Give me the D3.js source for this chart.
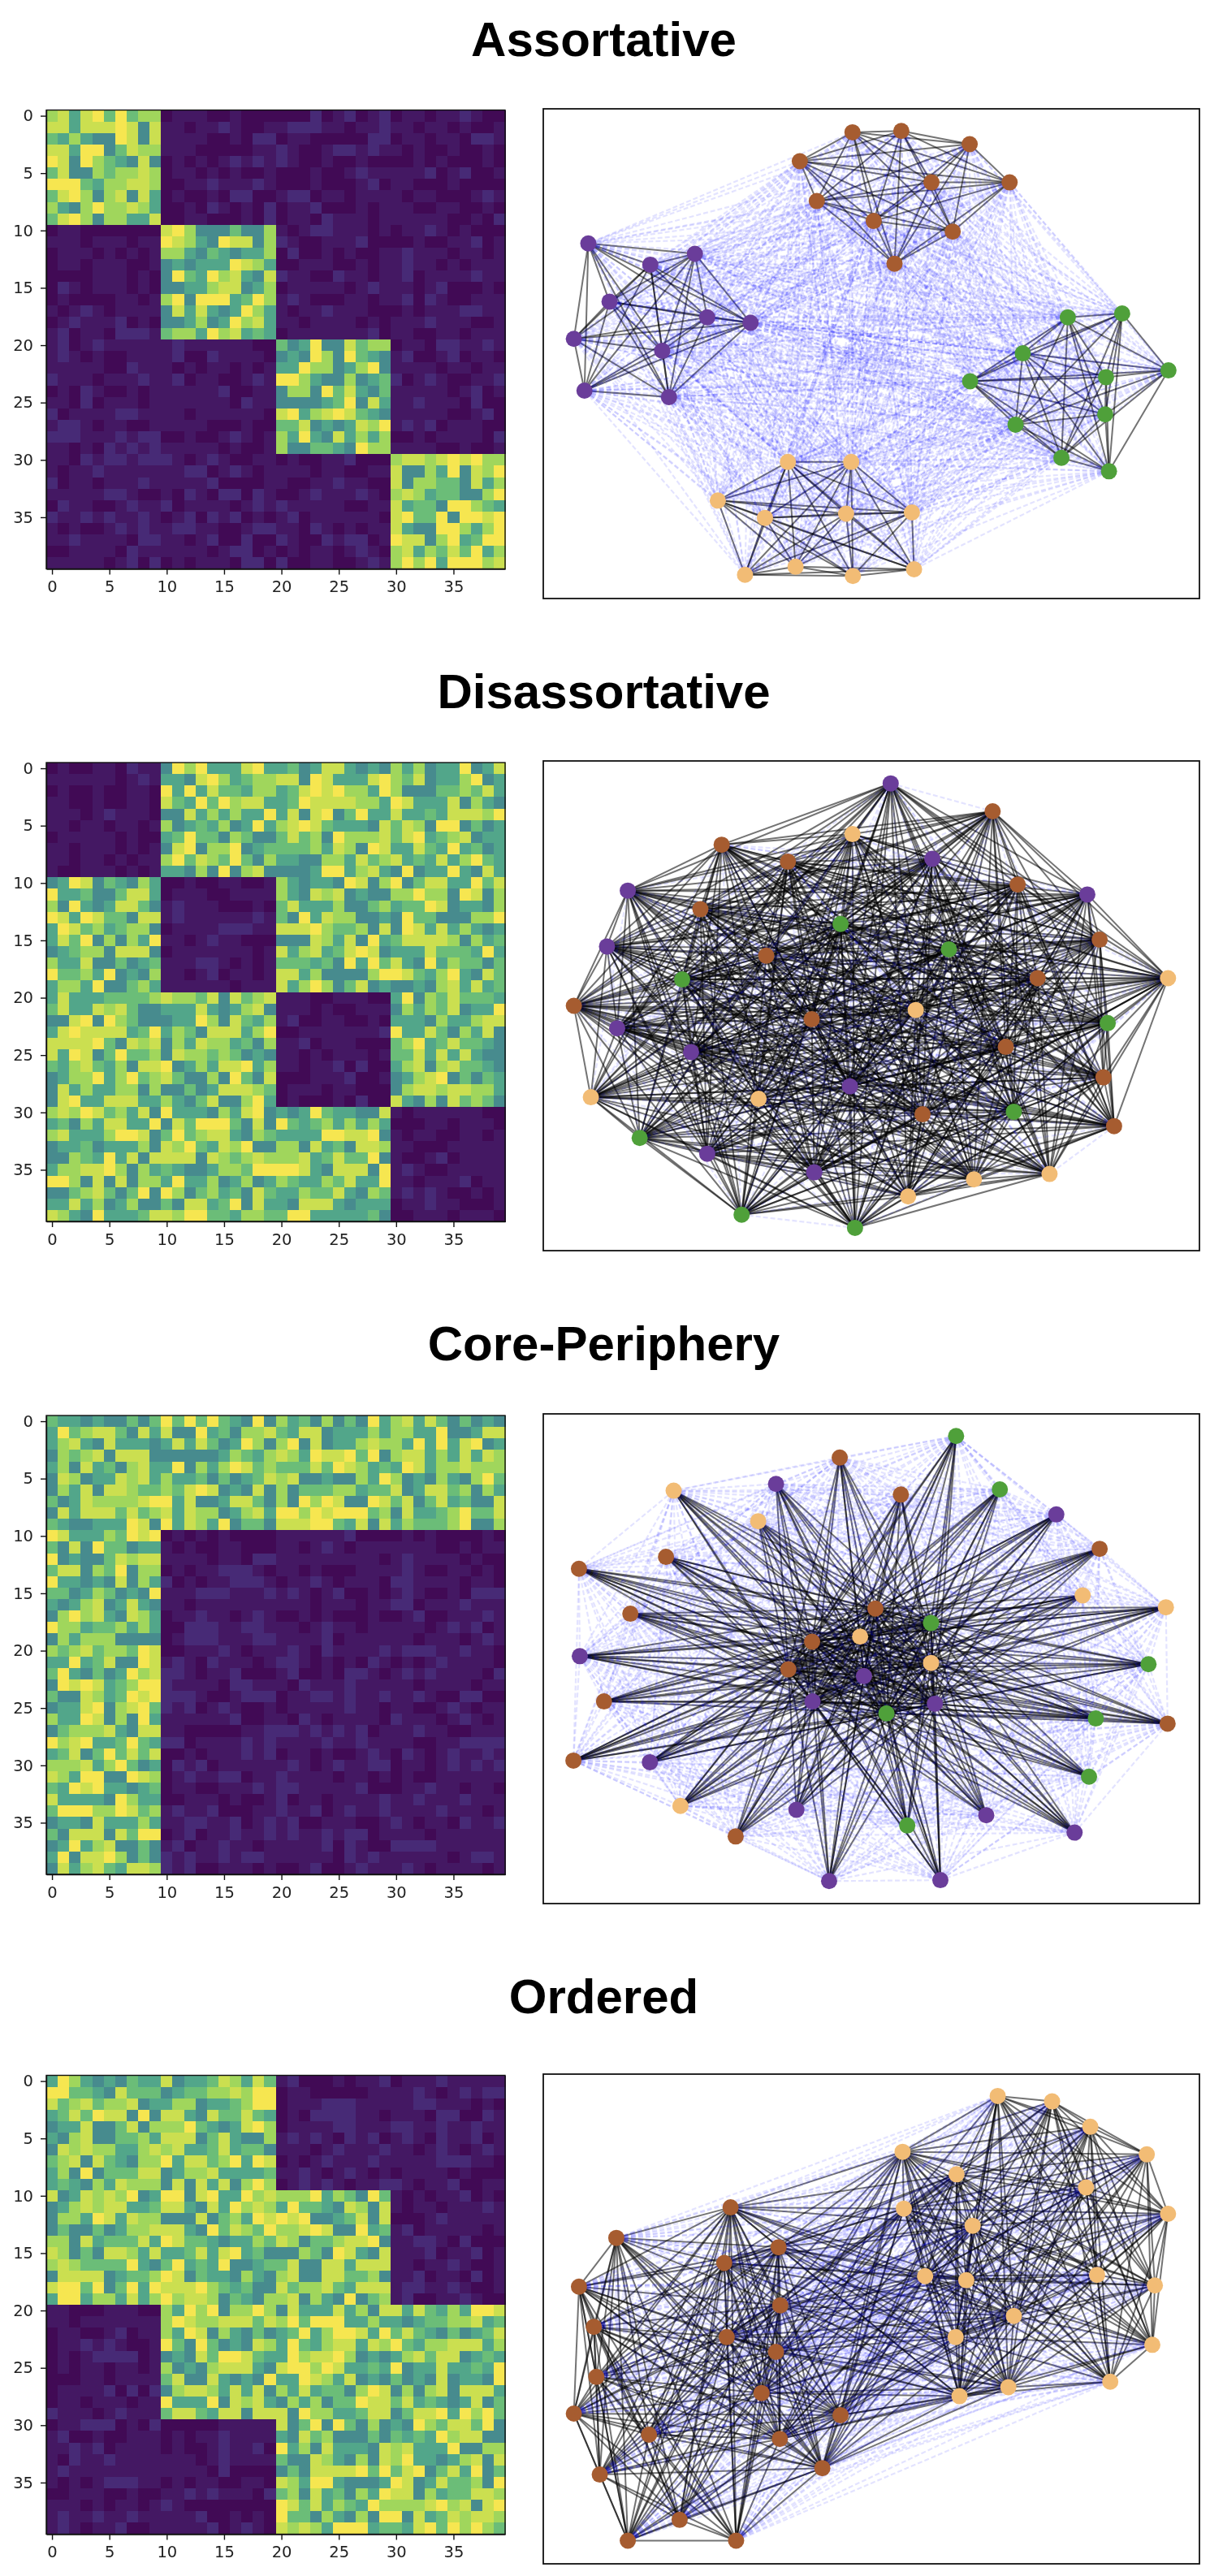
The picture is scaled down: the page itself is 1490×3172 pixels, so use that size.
<!DOCTYPE html>
<html lang="en">
<head>
<meta charset="utf-8">
<style type="text/css">
    html, body { margin: 0; padding: 0; background: #fff; }
    svg { display: block; }
    .title { font-family: "Liberation Sans", Arial, sans-serif; font-weight: bold; font-size: 60px; text-anchor: middle; }
    .axis text { font-family: "DejaVu Sans", sans-serif; font-size: 19.5px; fill: #222; }
    .axis path, .axis line { stroke: #111; stroke-width: 1.4px; }
    .strong { stroke: #000; stroke-opacity: .55; stroke-width: 2px; }
    .weak { stroke: #0000ff; stroke-opacity: .11; stroke-width: 2.2px; stroke-dasharray: 6 3; }
</style>
</head>
<body>
<svg width="1490" height="3172"></svg>
<script src="https://cdn.jsdelivr.net/npm/d3@7"></script>
<script type="text/javascript">
    // cell levels: a-c are the weak (dark) cells, 4-9 are the strong ones
    var levels = {a: 0, b: .03, c: .07, 4: .45, 5: .55, 6: .65, 7: .76, 8: .88, 9: 1};

    var titles = ["Assortative", "Disassortative", "Core-Periphery", "Ordered"];
    var tickValues = [0, 5, 10, 15, 20, 25, 30, 35];
    var communityColors = ["#a65c30", "#6a3d9a", "#4fa03a", "#f2bc75"];

    var assortativeCells = [
        "7858969677 abbbaabaaa aaacabcabc abbabbcbaa",
        "8858889848 bbabbcbaab bcccbbabbc bbabbabaab",
        "6575449848 bbbbaabacc abbaaaaacc abbabbaccb",
        "8859946877 bbbaaaaabb cbaabccbcb babaabaaba",
        "9849765484 abababcbcb cbaabaabaa aababaaaba",
        "6844767787 abbababaab aaabaabcbb bbbcabcaab",
        "9996577887 aabbcbbbcb aaabaaabca bbaaabaaaa",
        "6897478485 abaabaccaa bccabbabbb babbaaabcb",
        "7547977875 aabacbabac abbcaaabab bbaabbaaba",
        "6897477558 aabbaaabac abbacbbbab bbbbbaabac",
        "abbaaaaaaa 8974446447 babccbbbab abbcbabaaa",
        "bbbabbbabb 9875498847 cbaabbbcaa aabaabbcab",
        "abbbababab 7754654557 acaababaab bcbbbabbab",
        "abbabbbaab 4545559875 aabbbaabab bcbbababbb",
        "aaaabbbaba 4965978548 cbbaacbbab bcabbbbcbb",
        "acbabbbaba 4455788457 abbbbbabcb bbabcaaaba",
        "abaaaabbab 7949995697 bcbaaabbab bcacbaabbb",
        "babcbabbbb 4858545975 babbcbbbaa ababbbccbb",
        "abcbbbcaba 4457459785 bbabbbbaba bbbcbbbaab",
        "bcabbacccb 6775978565 abbbbbbbca bbaabbabbb",
        "bcabcbbbbb bcbbbbbbaa 6459448677 abbaccbbcb",
        "bcbabaabbb bcaacbbbba 4549749654 bcaabcabba",
        "bbbbbaacbb bababbabab 5597745794 bbbbabbabb",
        "cbbbabbbcb bcabbaabcb 9975447456 cabcbaabbc",
        "abacbaabab bbbbbcaabb 4774968546 bbbbbabcab",
        "bbacabbbab bbbbbbacbb 4444569485 bbcbbbacaa",
        "cabbbbccbb bbabbbbbba 8957898654 bbbbbaabca",
        "bccbabbaab bbbbaaabaa 6684545879 bcbcabbbaa",
        "cccbbbcbcc aabaabcbab 7595485757 aababbbbac",
        "bbabacbcbc bbbbbabaab 7446654977 bbbbaabaab",
        "bbacbccbcc cbabcbaabb abaabbcaaa 7887898977",
        "babbcbbbbb bbccabcbab bbbabbaabb 8447594879",
        "cabbabbbcb bbbbcaaaab baabbcbbaa 8477664857",
        "bbbbbccbaa bacbaccacb aabcbbbcba 7875664479",
        "acbbaabcbb cabbbbabcb cbbbbbaabb 8566499765",
        "cbbcbcbbcb abcacbcaba bcabbbbbba 8966949989",
        "babaabcbcb bccbbaabcc bbacbababb 8544997579",
        "bbcbbbbacc bbabcaacaa cbaacbccab 9884795699",
        "aabbbbacbb bbbbabccab ababbabcba 7857686957",
        "bbbbbabcac ababbbacca caabbaabcb 7979599978"
    ];

    var disassortativeCells = [
        "abaabbacbb 4979555895 5645885454 7574559458",
        "bbbbbbabcb 5548975677 8849855589 7684557945",
        "abaabaabba 9595866577 5689897759 7444667685",
        "bbaabaabba 8659697885 5698888775 9855584754",
        "bbbabcbbba 4485757559 5848946955 8556588879",
        "bbabbabbab 7456574595 7898655548 6874994645",
        "abbbbbabaa 5696647644 6867497778 6895678455",
        "bbabbbabab 4894779456 6667587498 5586595645",
        "bbabbababb 7968769647 5544775867 8565857965",
        "baabbbabab 5547494784 4445995785 4945595485",
        "4598465475 aabaabbaab 7545549847 9468855968",
        "9556446885 abbbaabbbb 7548784544 7797749847",
        "7495458864 bcbbbaaaba 6855574467 5669845547",
        "9859866488 bcbbbbbbcb 6495877445 4966444779",
        "5986756774 abbbbcccbb 8889766748 4985857545",
        "5869474759 bbabcbbaaa 4448758495 6888874756",
        "4567748884 abbbbbbbab 8578568984 5558666595",
        "7558446456 bbbccbabab 6665649596 8549576646",
        "9667594547 bbabcabbab 8857444479 9865795486",
        "5775944675 bbbbbbabbb 8579746845 4454785856",
        "5855566667 8776848678 bbbaabbbaa 5947686665",
        "6855878644 5558545784 bbbabaabbb 4757684559",
        "4489497644 4559748657 bcaabbaaba 5554755788",
        "5898888569 5764888579 aabbbbbbbc 9558647584",
        "8888964878 4758775647 bbcabbbaaa 6795686654",
        "8598469667 4877676454 bbababbbab 6685858544",
        "6578657488 9457588957 bbabbcacaa 5784786654",
        "4577957967 8644749648 aaabbbcaab 4578946465",
        "4857557747 4464588876 abbbabbaaa 4788788775",
        "4895588855 7546844795 abaaabacaa 8547486764",
        "7879867584 9555475894 5459655448 babbbbbbaa",
        "5647588559 4869996484 9656757575 aaabbabbba",
        "7855579984 6967885476 5555998894 babbaabbab",
        "4556455574 8796587944 7748564887 bbaaabbbbb",
        "4476595848 8884876787 7785686694 baabcabbbb",
        "5778897475 6544577699 9985488849 bcbaabbbbb",
        "9974848477 5955745745 7655768559 bbabbbcabb",
        "4467864694 9746756486 5576685476 bcbcbaabab",
        "5585745744 6488569485 5488854555 abbcbbaaab",
        "8754955568 8799665776 6995555564 aabbbabbba"
    ];

    var corePeripheryCells = [
        "6554544646 9696965494 7564746495 7858646454",
        "5967886485 8449564778 6588455575 7755944588",
        "5785485554 5858645974 7948455787 7595958945",
        "4767848884 4444457657 8759889694 7885758587",
        "5748564785 5947579867 6668698756 5985778777",
        "4874558785 7556464568 7844544759 7454754796",
        "4758488766 7689845484 7466677566 8458867475",
        "6458777789 9584458864 7497984498 6846856448",
        "4858886867 8587745785 9979899967 4855679668",
        "6544555984 9587594664 8889965848 5766679447",
        "9855576989 abababaaaa bbbbbbcaaa ababaaaaba",
        "6484966455 babaabbaaa bbabcbabbb bbbbaababb",
        "9454468788 bbbbabbacc bbbbbbbbba bcbbbbabaa",
        "6884769477 ababbcccba bbabaaabbb bcbaabbaba",
        "9554548475 cababbcccb abbcbabbba ccbbbbabba",
        "6645764549 bbbcccbbbc bcbabcaaba bcbaabaccc",
        "5457845854 bbabbbbbbb bbbabbbabb ccabbbcbbb",
        "4797854875 abbcbbabcb aababaaaba abcaabbbcb",
        "9775667575 aacccbbccb bbabcbbabb bbbabcbcab",
        "4757774444 abcccbbbcc bbbbcabbbb bbabbbabcb",
        "7678677698 aabbbcbabb bcbacbbbbc bcccbbcbba",
        "5595684498 bcbacbbbab ccbababacb ababcbbbba",
        "6954645978 ccbabbcaaa bcaabaccba bcbcbbbbac",
        "4989856799 cbbbbaccbb bacbbbcbbb bbabbbbabb",
        "6448756989 cccbaabccc abbccbcbbc bbcbaaccaa",
        "4558947896 cbcabcbaab abbbbbcbba bbaabcbabb",
        "7559847495 bbbbbbcaab bacbabbbba cbbbabcbab",
        "4677785488 bbaaaaabbc ccbcbcbcab bbcbbaabbb",
        "9789556965 ccabbbbcbc bbbbcbbcbb bbaabbcccc",
        "5684696868 aababbbcbc abbabaabcb acbabcbbcb",
        "7778579645 acbcabbbbb bcbabcbbcc abbabcbcbc",
        "8759944987 abcbbccabb cbbbbabbab abaabbbbbb",
        "6598955456 abbaabbbcb ccbbbbbcaa abbcbbabba",
        "8555549755 aabbbabaab cabbabbbbc bbcbbbcbbb",
        "6999779867 bcbbcaaabb cbbcabcbbc bbbbcbbbab",
        "4554855575 bbccbbcabc bcaabbbaab cbabbacbbc",
        "6488848699 abcabbcbbc bcbbcbccab bbbabbbbbb",
        "4595784464 bcabbcbbab bbbbcacbaa ccccbbbbbb",
        "5948897464 cbcbbcbccb bbbbbacbcb bbbbbabccb",
        "4857865887 cbcaabbbab aabcaabcbb bcbabbbbab"
    ];

    var orderedCells = [
        "5975454655 8455687586 bcaaababbc abbbcbbbbb",
        "9966548666 4566778799 abbaaaaabb bbcbabcbcc",
        "8678677845 5774556799 abbbcccbbb bbccbbbaba",
        "5686988494 8854866865 abaccccbba bbbaccaacb",
        "4558446847 7796545897 abbbbccbbb ccbbcbbcbb",
        "5478446675 8884685447 bcbcbacbca bcbacbbcab",
        "4878775578 7855685664 bbbabcbbbc bbabcbabcb",
        "6784865477 9588679598 ababcbbbcb bbbbcccbba",
        "5749466688 4577855556 bbcbabcbab abbbbabaaa",
        "5654758777 4848584797 abcbcbabbc cbabbcaabb",
        "8458787945 9948955978 7779576496 bababbcaba",
        "4578788556 8854859787 5966548748 babbabbbcb",
        "4775985877 4448467598 9894456848 aaabcbbbbb",
        "4644645778 8854968769 7789844956 bcabbbbbab",
        "7748566685 9866545576 8746678894 bbccbacaaa",
        "8746488758 5568589564 4476498548 bbbcabbcab",
        "7876666954 6956594456 6844885888 bbabbcbaab",
        "4888845667 9846554754 7844886674 bbcabbacab",
        "8996946959 8889765644 8677865888 bccbbcbaab",
        "5995775857 9788746547 7847549467 bcaabbcbaa",
        "bbaaabbbaa 7597947797 4855585748 8586575998",
        "bbabbbbbbb 7987788868 7969995575 5456677856",
        "abbaabcabb 7598475464 5695799859 6865464568",
        "abbcbcbaab 9649645487 5965788587 9657788857",
        "ababccccab 4548699865 5978897454 5786884565",
        "ababbabbab 7454788854 8997985565 9455855659",
        "aaabbabbbb 6844854549 5598758454 6454845549",
        "abbbbcacac 4788758584 7585664798 4747848885",
        "abbabbbabb 9555948785 4757466988 6856545846",
        "cbbbabcbbb 6886588488 8497755688 4688959796",
        "abbcccabac aaaaabbbbb 8469496474 5497688694",
        "bcaabaabbb ababbcbbbb 5486744464 6565978844",
        "bbcbcabbbb abaabcbbca 9574855548 7855594477",
        "bacbbcbbbb bbbabcbbbb 6448754748 7955457848",
        "bcbbbbbbbb bbbbacaaaa 4648888969 6894685946",
        "bababcccbb ababbaabba 8759954445 9845866749",
        "aabbbaabaa bbcbcbbbac 6748564759 8847566887",
        "bbbababbab cbaaaaaaaa 9868576597 7778978489",
        "bcbbcbbcbb bbbcaababa 9664754749 9485687887",
        "bcbabbcaab bbbbcabcba 8787599956 6589697976"
    ];

    // layout positions of the nodes: x, y, community. Block of a node = index / 10
    var assortativeNodes = [
        [745,95,0],[860,91,0],[1021,132,0],[621,185,0],[1115,251,0],[931,251,0],[661,309,0],[795,371,0],[981,404,0],[844,504,0],
        [123,441,1],[374,473,1],[269,507,1],[173,622,1],[403,671,1],[505,688,1],[89,738,1],[297,775,1],[114,899,1],[313,919,1],
        [1380,659,2],[1252,671,2],[1146,783,2],[1489,836,2],[1342,857,2],[1022,870,2],[1340,973,2],[1129,1005,2],[1237,1108,2],[1349,1150,2],
        [593,1121,3],[742,1121,3],[428,1241,3],[885,1278,3],[539,1295,3],[730,1282,3],[890,1455,3],[611,1447,3],[746,1476,3],[492,1472,3]
    ];
    var disassortativeNodes = [
        [835,100,1],[1075,187,0],[89,793,0],[972,617,2],[542,637,0],[1181,707,0],[524,1083,3],[403,1254,1],[910,1131,0],[1336,1016,0],
        [1361,1168,0],[1209,1317,3],[216,434,1],[593,344,0],[717,538,2],[344,711,2],[894,806,3],[1106,921,0],[655,1312,1],[129,1078,3],
        [751,1485,2],[484,1444,2],[437,291,0],[1298,446,1],[1134,415,0],[933,335,1],[649,835,0],[191,863,1],[1346,847,2],[1031,1334,3],
        [745,258,3],[387,492,0],[167,608,1],[1488,707,3],[1327,587,0],[365,937,1],[739,1044,1],[1125,1123,2],[876,1387,3],[244,1205,2]
    ];
    var corePeripheryNodes = [
        [799,647,0],[930,692,2],[650,750,0],[763,734,3],[594,836,0],[930,816,3],[772,857,1],[651,936,1],[939,943,1],[825,973,2],
        [989,110,2],[715,177,0],[565,259,1],[324,280,3],[859,292,0],[1092,276,2],[523,375,3],[1225,354,1],[306,486,0],[1327,461,0],
        [101,523,0],[1287,606,3],[222,663,0],[1483,643,3],[103,795,1],[1442,820,2],[160,936,0],[1318,989,2],[1487,1005,0],[88,1120,0],
        [268,1125,1],[1302,1170,2],[340,1261,3],[613,1273,1],[1060,1290,1],[874,1322,2],[470,1356,0],[1268,1344,1],[690,1495,1],[952,1492,1]
    ];
    var orderedNodes = [
        [189,545,0],[101,697,0],[136,822,0],[142,978,0],[89,1092,0],[266,1158,0],[150,1282,0],[338,1423,0],[216,1488,0],[471,1488,0],
        [458,450,0],[571,574,0],[443,623,0],[575,755,0],[449,854,0],[565,900,0],[717,1097,0],[574,1171,0],[674,1262,0],[531,1028,0],
        [863,277,3],[866,454,3],[990,347,3],[916,664,3],[1013,677,3],[988,854,3],[1028,507,3],[1125,788,3],[1112,1010,3],[997,1038,3],
        [1087,103,3],[1215,120,3],[1305,199,3],[1438,285,3],[1295,388,3],[1488,470,3],[1321,660,3],[1457,693,3],[1451,878,3],[1352,993,3]
    ];

    var cellSets = [assortativeCells, disassortativeCells, corePeripheryCells, orderedCells];
    var nodeSets = [assortativeNodes, disassortativeNodes, corePeripheryNodes, orderedNodes];

    // where each row sits on the page
    var heatTops = [135.5, 939, 1743, 2555.5];
    var netTops = [134, 937, 1741, 2554];
    var titleBaselines = [69, 872, 1675, 2479];
    var layoutYDomains = [[22, 1546], [30, 1556], [41, 1565], [35, 1560]];

    var heatLeft = 57, heatSize = 565, netLeft = 669, netWidth = 808, netHeight = 603;

    var color = d3.scaleLinear()
        .domain([0, .07, .45, .55, .65, .76, .88, 1])
        .range(["#410a55", "#472a76", "#478b8e", "#52a68a", "#6bbd78", "#a0d65c", "#cbdf50", "#f6e650"]);

    var svg = d3.select("svg");

    // the reference is a slightly soft screenshot
    svg.append("defs").append("filter")
        .attr("id", "soft")
        .attr("filterUnits", "userSpaceOnUse")
        .attr("x", 0).attr("y", 0).attr("width", 1490).attr("height", 3172)
        .attr("color-interpolation-filters", "sRGB")
        .append("feGaussianBlur").attr("stdDeviation", .55);

    var root = svg.append("g").attr("filter", "url(#soft)");

    titles.forEach(function (title, p) {
        root.append("text").attr("class", "title")
            .attr("x", 743.5).attr("y", titleBaselines[p]).text(title);
        var rows = cellSets[p].map(function (r) {
            return r.replace(/ /g, "").split("").map(function (c) { return levels[c]; });
        });
        drawHeat(rows, heatTops[p]);
        drawNet(rows, nodeSets[p], netTops[p], layoutYDomains[p]);
    });

    function drawHeat(rows, top) {
        var x = d3.scaleLinear().domain([-0.5, 39.5]).range([heatLeft, heatLeft + heatSize]);
        var y = d3.scaleLinear().domain([-0.5, 39.5]).range([top, top + heatSize]);
        var g = root.append("g");

        rows.forEach(function (row, r) {
            g.selectAll(null)
                .data(row)
                .enter()
                .append("rect")
                .attr("x", function (d, c) { return x(c - 0.5); })
                .attr("y", y(r - 0.5))
                .attr("width", x(1) - x(0) + .5)
                .attr("height", y(1) - y(0) + .5)
                .attr("shape-rendering", "crispEdges")
                .attr("fill", function (d) { return color(d); });
        });

        root.append("g").attr("class", "axis")
            .attr("transform", "translate(0," + (top + heatSize) + ")")
            .call(d3.axisBottom(x).tickValues(tickValues).tickSize(7).tickPadding(8).tickSizeOuter(0));
        root.append("g").attr("class", "axis")
            .attr("transform", "translate(" + heatLeft + ",0)")
            .call(d3.axisLeft(y).tickValues(tickValues).tickSize(7).tickPadding(9).tickSizeOuter(0));
        root.append("rect")
            .attr("x", heatLeft).attr("y", top).attr("width", heatSize).attr("height", heatSize)
            .attr("fill", "none").attr("stroke", "#111").attr("stroke-width", 1.4);
    }

    function drawNet(rows, nodes, top, yDomain) {
        var x = d3.scaleLinear().domain([17, 1562]).range([netLeft, netLeft + netWidth]);
        var y = d3.scaleLinear().domain(yDomain).range([top, top + netHeight]);
        var g = root.append("g");

        var links = [];
        nodes.forEach(function (a, i) {
            nodes.forEach(function (b, j) {
                if (i < j) links.push({a: a, b: b, value: rows[i][j]});
            });
        });
        // blue over black, that is what gives the navy crossings
        links.sort(function (l, m) { return m.value - l.value; });

        g.selectAll(".link")
            .data(links)
            .enter()
            .append("line")
            .attr("class", function (d) { return d.value > .3 ? "strong" : "weak"; })
            .attr("x1", function (d) { return x(d.a[0]); })
            .attr("y1", function (d) { return y(d.a[1]); })
            .attr("x2", function (d) { return x(d.b[0]); })
            .attr("y2", function (d) { return y(d.b[1]); });

        g.selectAll("circle")
            .data(nodes)
            .enter()
            .append("circle")
            .attr("cx", function (d) { return x(d[0]); })
            .attr("cy", function (d) { return y(d[1]); })
            .attr("r", 10)
            .attr("fill", function (d) { return communityColors[d[2]]; });

        root.append("rect")
            .attr("x", netLeft).attr("y", top).attr("width", netWidth).attr("height", netHeight)
            .attr("fill", "none").attr("stroke", "#111").attr("stroke-width", 1.8);
    }
</script>
</body>
</html>
